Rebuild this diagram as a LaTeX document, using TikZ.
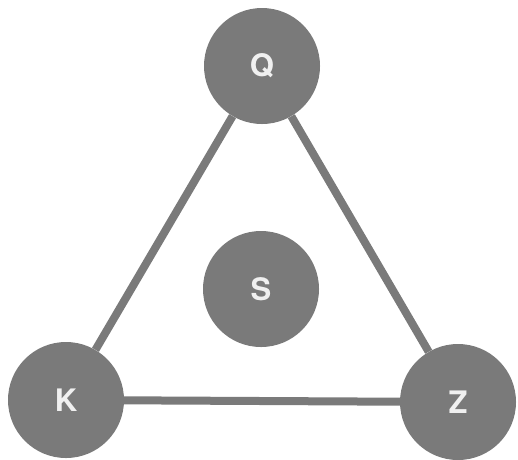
\documentclass[tikz,border=0pt]{standalone}
\usepackage{fontspec}
\setsansfont{TeX Gyre Heros}
\usepackage{tikz}

\definecolor{ballgray}{RGB}{122,122,122}
\definecolor{labelwhite}{RGB}{240,240,240}

\tikzset{
	ball/.style={circle, fill=ballgray, minimum size=116pt, inner sep=0pt,
		text=labelwhite, font=\sffamily\bfseries\fontsize{31}{31}\selectfont},
	link/.style={draw=ballgray, line width=8pt}
}

\begin{document}
\begin{tikzpicture}[x=1pt,y=-1pt]
	
	\useasboundingbox (0,0) rectangle (518,459);
	
	% the four balls
	\node[ball] (q) at (262,66) {Q};
	\node[ball] (s) at (261,289) {S};
	\node[ball] (k) at (66,400) {K};
	\node[ball] (z) at (458,402) {Z};
	
	% triangle between the outer balls
	\draw[link] (q) -- (k);
	\draw[link] (k) -- (z);
	\draw[link] (z) -- (q);
	
\end{tikzpicture}
\end{document}
